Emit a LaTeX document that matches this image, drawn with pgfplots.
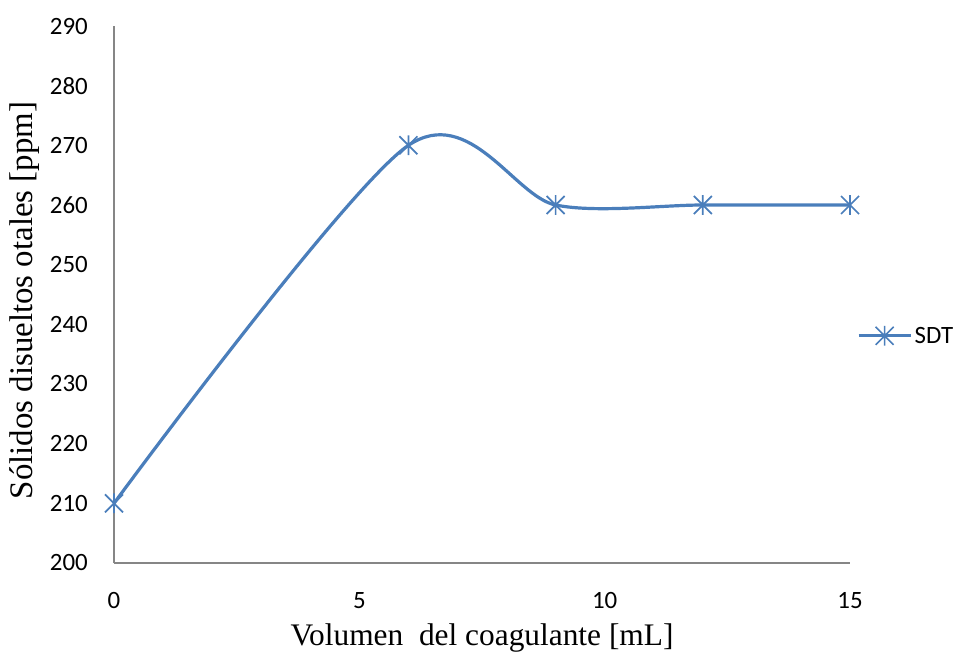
\documentclass[border=0pt]{standalone}
\usepackage{fontspec}
\setmainfont{Carlito}
\newfontfamily\timesf{Liberation Serif}
\usepackage{pgfplots}
\pgfplotsset{compat=1.18}
\definecolor{sblue}{HTML}{4A7EBB}
\definecolor{agray}{HTML}{868686}
\pgfdeclareplotmark{xstar}{%
  \pgfpathmoveto{\pgfqpoint{-\pgfplotmarksize}{-\pgfplotmarksize}}%
  \pgfpathlineto{\pgfqpoint{\pgfplotmarksize}{\pgfplotmarksize}}%
  \pgfpathmoveto{\pgfqpoint{-\pgfplotmarksize}{\pgfplotmarksize}}%
  \pgfpathlineto{\pgfqpoint{\pgfplotmarksize}{-\pgfplotmarksize}}%
  \pgfpathmoveto{\pgfqpoint{0pt}{-1.1\pgfplotmarksize}}%
  \pgfpathlineto{\pgfqpoint{0pt}{1.1\pgfplotmarksize}}%
  \pgfusepathqstroke}
\begin{document}
\begin{tikzpicture}
\useasboundingbox (-114bp,-97bp) rectangle (841bp,563bp);
\begin{axis}[
  at={(0,0)}, anchor=south west,
  scale only axis, width=736bp, height=537bp,
  xmin=0, xmax=15, ymin=200, ymax=290,
  xtick={0,5,10,15}, ytick={200,210,...,290},
  axis x line*=bottom, axis y line*=left,
  axis line style={agray, line width=1.1bp},
  x axis line style={-}, y axis line style={-},
  major tick length=0pt,
  tick style={draw=none},
  /pgf/number format/assume math mode=true,
  tick label style={font=\fontsize{25}{29}\selectfont, text=black},
  yticklabel style={inner sep=0pt, anchor=east, xshift=-26bp},
  xticklabel style={inner sep=0pt, anchor=north, yshift=-29bp},
  xlabel={Volumen\ \ del coagulante [mL]},
  ylabel={Sólidos disueltos otales [ppm]},
  xlabel style={font=\timesf\fontsize{31.5}{36}\selectfont, at={([yshift=-82bp]axis description cs:0.5,0)}, anchor=base, inner sep=0pt},
  ylabel style={font=\timesf\fontsize{33}{36}\selectfont, at={([xshift=-81bp]axis description cs:0,0.489)}, anchor=base, inner sep=0pt},
  legend style={at={([xshift=7bp]1,0.423)}, anchor=west, draw=none, fill=none, inner sep=0pt, outer sep=0pt, font=\fontsize{25}{29}\selectfont, nodes={inner sep=2.5bp}},
  legend image code/.code={\draw[#1, mark repeat=2, mark phase=2] plot coordinates {(0bp,0bp) (26bp,0bp) (52bp,0bp)};},
  clip=false,
]
\addplot[color=sblue, line width=3.2bp, smooth, tension=0.5, mark=xstar, mark size=9bp, mark options={line width=1.7bp, solid}]
  coordinates {(0,210) (6,270) (9,260) (12,260) (15,260)};
\addlegendentry{SDT}
\end{axis}
\end{tikzpicture}
\end{document}
